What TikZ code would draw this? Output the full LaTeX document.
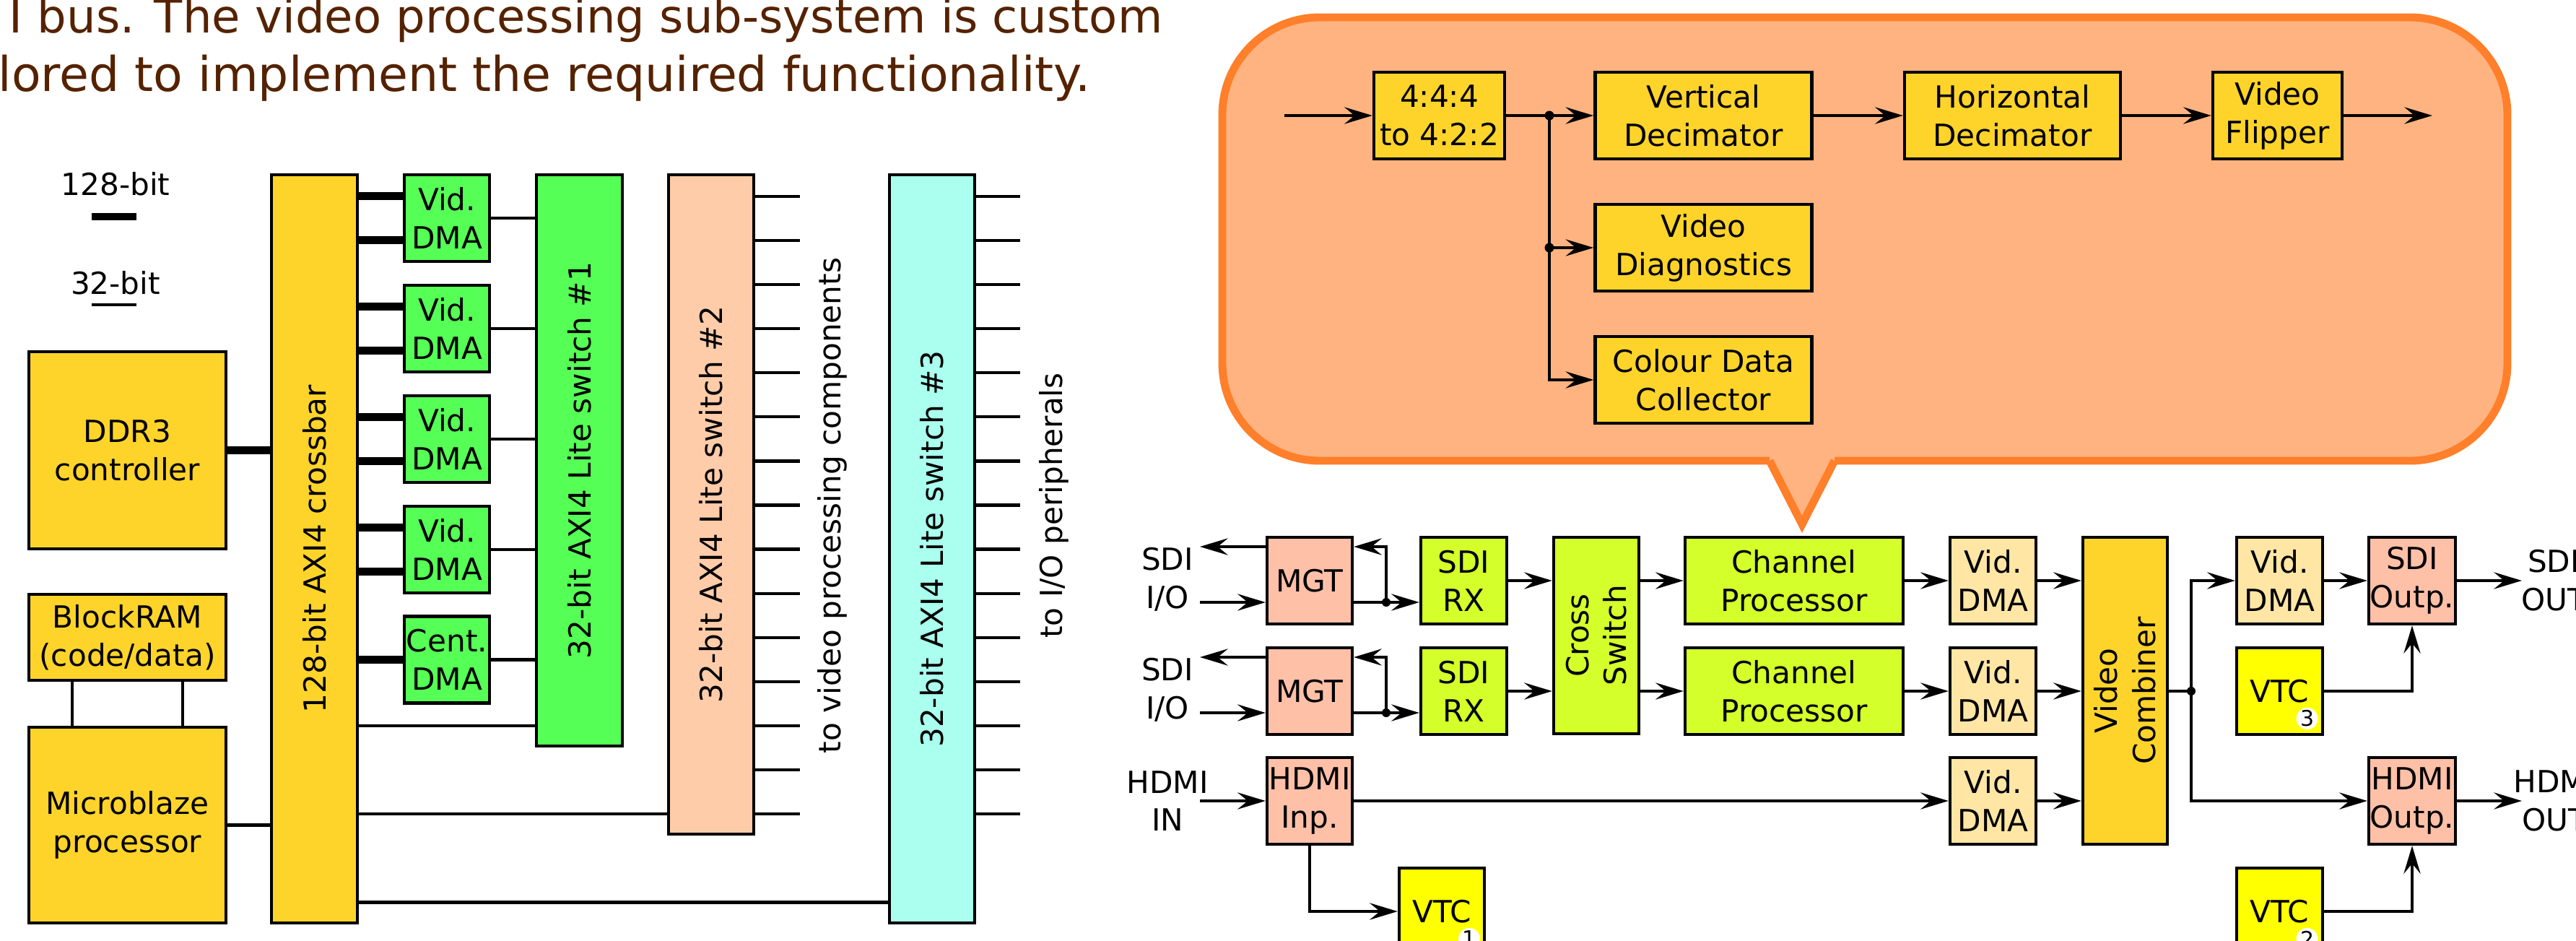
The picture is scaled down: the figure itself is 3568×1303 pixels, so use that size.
\documentclass[tikz,border=0pt]{standalone}
\usepackage{fontspec}
\setmainfont{DejaVu Sans}
\usepackage{tikz}
\usetikzlibrary{arrows.meta,calc}

\definecolor{gold}{HTML}{FFD42A}
\definecolor{dmagreen}{HTML}{55FF55}
\definecolor{peach}{HTML}{FFCCAA}
\definecolor{aqua}{HTML}{AAFFEE}
\definecolor{lime}{HTML}{D4FF2A}
\definecolor{dmatan}{HTML}{FFE6A5}
\definecolor{iosalmon}{HTML}{FFC0A8}
\definecolor{vtcyellow}{HTML}{FFFF00}
\definecolor{callfill}{HTML}{FFB380}
\definecolor{callline}{HTML}{FF7F2A}
\definecolor{txtbrown}{HTML}{552200}

\newcommand{\boxfont}{\fontsize{12}{15}\selectfont}

\tikzstyle{blk} = [draw, line width=1.2pt, inner sep=0pt, align=center, font=\boxfont]
\tikzstyle{wire} = [line width=1.2pt]
\tikzstyle{bus} = [line width=3pt]
\tikzstyle{flow} = [line width=1.2pt, -{Stealth[length=11pt,width=6.6pt,inset=4pt]}]
\tikzstyle{rotlbl} = [rotate=90, align=center, font=\boxfont, inner sep=0pt]
\tikzstyle{iolbl} = [align=center, font=\boxfont, inner sep=0pt]
\tikzstyle{numdot} = [circle, fill=white, inner sep=0pt, minimum size=3mm, font=\fontsize{8.5}{9}\selectfont]
\tikzstyle{intro} = [inner sep=0pt, text=txtbrown]

\begin{document}
\begin{tikzpicture}[x=0.01cm, y=-0.01cm]
\useasboundingbox (0,0) rectangle (3568,1303);
\clip (0,0) rectangle (3568,1303);

\node[intro, anchor=base east, font=\fontsize{18.2}{23}\selectfont] (intro1) at (1611,45) {I bus. The video processing sub-system is custom};
\node[intro, anchor=base west, font=\fontsize{18.9}{23}\selectfont] (intro2) at (-3,126) {lored to implement the required functionality.};

\node[iolbl] (leg128) at (160,255) {128-bit};
\draw[bus] (127,300) -- (189,300);
\node[iolbl] (leg32) at (160,392) {32-bit};
\draw[wire] (127,422) -- (189,422);

\node[blk, fill=gold, minimum width=2.73cm, minimum height=2.73cm] (ddr) at (176.5,623.5) {DDR3\\controller};
\node[blk, fill=gold, minimum width=2.73cm, minimum height=1.19cm] (bram) at (176.5,882.5) {BlockRAM\\(code/data)};
\node[blk, fill=gold, minimum width=2.73cm, minimum height=2.71cm] (mb) at (176.5,1142.5) {Microblaze\\processor};
\node[blk, fill=gold, minimum width=1.19cm, minimum height=10.36cm] (xbar) at (435.5,760) {};
\node[rotlbl] (xbarlbl) at (xbar) {128-bit AXI4 crossbar};

\foreach \i/\y in {1/302,2/455,3/608,4/761}{
  \node[blk, fill=dmagreen, minimum width=1.18cm, minimum height=1.2cm] (dma\i) at (619,\y) {Vid.\\DMA};
}
\node[blk, fill=dmagreen, minimum width=1.18cm, minimum height=1.2cm] (cdma) at (619,913.5) {Cent.\\DMA};

\node[blk, fill=dmagreen, minimum width=1.19cm, minimum height=7.91cm] (sw1) at (802.5,637.5) {};
\node[rotlbl] (sw1lbl) at (sw1) {32-bit AXI4 Lite switch \#1};
\node[blk, fill=peach, minimum width=1.18cm, minimum height=9.13cm] (sw2) at (985,698.5) {};
\node[rotlbl] (sw2lbl) at (sw2) {32-bit AXI4 Lite switch \#2};
\node[blk, fill=aqua, minimum width=1.18cm, minimum height=10.36cm] (sw3) at (1291,760) {};
\node[rotlbl] (sw3lbl) at (sw3) {32-bit AXI4 Lite switch \#3};

\draw[bus] (ddr.east) -- (ddr.east -| xbar.west);
\foreach \i in {1,...,4}{
  \draw[bus] ([yshift=3.05mm]dma\i.west) -- ([yshift=3.05mm]dma\i.west -| xbar.east);
  \draw[bus] ([yshift=-3.05mm]dma\i.west) -- ([yshift=-3.05mm]dma\i.west -| xbar.east);
  \draw[wire] (dma\i.east) -- (dma\i.east -| sw1.west);
}
\draw[bus] (cdma.west) -- (cdma.west -| xbar.east);
\draw[wire] (cdma.east) -- (cdma.east -| sw1.west);

\draw[wire] ([xshift=-7.65mm]bram.south) -- ([xshift=-7.65mm]bram.south |- mb.north);
\draw[wire] ([xshift=7.65mm]bram.south) -- ([xshift=7.65mm]bram.south |- mb.north);
\draw[wire] (mb.east) -- (mb.east -| xbar.west);
\draw[wire] ([yshift=3mm]sw1.south west) -- ([yshift=3mm]sw1.south west -| xbar.east);
\draw[wire] ([yshift=3mm]sw2.south west) -- ([yshift=3mm]sw2.south west -| xbar.east);
\draw[wire] ([yshift=3.1mm]sw3.south west) -- ([yshift=3.1mm]sw3.south west -| xbar.east);

\foreach \k in {0,...,14}{
  \coordinate (tovp\k) at (1108,{272+61.07*\k});
  \coordinate (toio\k) at (1413,{272+61.07*\k});
  \draw[wire] (tovp\k -| sw2.east) -- (tovp\k);
  \draw[wire] (toio\k -| sw3.east) -- (toio\k);
}
\node[rotlbl] (tovplbl) at (1153,700) {to video processing components};
\node[rotlbl] (toiolbl) at (1460,700) {to I/O peripherals};

\draw[line width=3.1pt, draw=callline, fill=callfill, rounded corners=1.35cm] (1693,24) rectangle (3473,638);
\fill[callfill] (2451,626) -- (2541,626) -- (2541,638) -- (2496,726) -- (2451,638) -- cycle;
\draw[line width=3.1pt, draw=callline] (2451,638) -- (2496,726) -- (2541,638);

\node[blk, fill=gold, minimum width=1.81cm, minimum height=1.2cm] (cvt) at (1993.5,160) {4:4:4\\to 4:2:2};
\node[blk, fill=gold, minimum width=3cm, minimum height=1.2cm] (vdec) at (2359.5,160) {Vertical\\Decimator};
\node[blk, fill=gold, minimum width=2.99cm, minimum height=1.2cm] (hdec) at (2787.5,160) {Horizontal\\Decimator};
\node[blk, fill=gold, minimum width=1.79cm, minimum height=1.2cm] (flip) at (3154.5,160) {Video\\Flipper};
\node[blk, fill=gold, minimum width=3cm, minimum height=1.2cm] (vdiag) at (2359.5,343) {Video\\Diagnostics};
\node[blk, fill=gold, minimum width=3cm, minimum height=1.2cm] (cdc) at (2359.5,526) {Colour Data\\Collector};
\coordinate (vin) at (1779,160);
\coordinate (vout) at (3369,160);
\coordinate (split1) at (2146,160);
\coordinate (split2) at (2146,343);
\draw[flow] (vin) -- (cvt);
\draw[flow] (cvt) -- (vdec);
\draw[flow] (split1) |- (cdc);
\draw[flow] (split2) -- (vdiag);
\fill (split1) circle[radius=0.65mm];
\fill (split2) circle[radius=0.65mm];
\draw[flow] (vdec) -- (hdec);
\draw[flow] (hdec) -- (flip);
\draw[flow] (flip) -- (vout);

\node[blk, fill=iosalmon, minimum width=1.18cm, minimum height=1.2cm] (mgt1) at (1814,804) {MGT};
\node[blk, fill=iosalmon, minimum width=1.18cm, minimum height=1.2cm] (mgt2) at (1814,957) {MGT};
\node[blk, fill=iosalmon, minimum width=1.18cm, minimum height=1.2cm] (hdmiin) at (1814,1109) {HDMI\\Inp.};
\node[blk, fill=lime, minimum width=1.19cm, minimum height=1.2cm] (rx1) at (2027.5,804) {SDI\\RX};
\node[blk, fill=lime, minimum width=1.19cm, minimum height=1.2cm] (rx2) at (2027.5,957) {SDI\\RX};
\node[blk, fill=lime, minimum width=1.18cm, minimum height=2.72cm] (xsw) at (2211,880) {};
\node[rotlbl] (xswlbl) at (xsw) {Cross\\Switch};
\node[blk, fill=lime, minimum width=3.02cm, minimum height=1.2cm] (cp1) at (2485,804) {Channel\\Processor};
\node[blk, fill=lime, minimum width=3.02cm, minimum height=1.2cm] (cp2) at (2485,957) {Channel\\Processor};
\foreach \i/\y in {1/804,2/957,3/1109}{
  \node[blk, fill=dmatan, minimum width=1.19cm, minimum height=1.2cm] (vd\i) at (2760.5,\y) {Vid.\\DMA};
}
\node[blk, fill=gold, minimum width=1.17cm, minimum height=4.25cm] (comb) at (2943.5,956.5) {};
\node[rotlbl] (comblbl) at (comb) {Video\\Combiner};
\node[blk, fill=dmatan, minimum width=1.19cm, minimum height=1.2cm] (vdo) at (3157.5,804) {Vid.\\DMA};
\node[blk, fill=vtcyellow, minimum width=1.19cm, minimum height=1.2cm] (vtc3) at (3157.5,957) {VTC};
\node[blk, fill=vtcyellow, minimum width=1.19cm, minimum height=1.2cm] (vtc2) at (3157.5,1262) {VTC};
\node[blk, fill=vtcyellow, minimum width=1.18cm, minimum height=1.2cm] (vtc1) at (1997,1262) {VTC};
\node[numdot] (vtc1no) at ([shift={(0.38cm,-0.38cm)}]vtc1.center) {1};
\node[numdot] (vtc2no) at ([shift={(0.38cm,-0.38cm)}]vtc2.center) {2};
\node[numdot] (vtc3no) at ([shift={(0.38cm,-0.38cm)}]vtc3.center) {3};
\node[blk, fill=iosalmon, minimum width=1.2cm, minimum height=1.2cm] (sdio) at (3341,804) {SDI\\Outp.};
\node[blk, fill=iosalmon, minimum width=1.2cm, minimum height=1.2cm] (hdmio) at (3341,1109) {HDMI\\Outp.};

\node[iolbl] (sdiio1) at (1617,802) {SDI\\I/O};
\node[iolbl] (sdiio2) at (1617,955) {SDI\\I/O};
\node[iolbl] (hdmiinlbl) at (1617,1109) {HDMI\\IN};
\node[iolbl] (sdioutlbl) at (3537,804) {SDI\\OUT};
\node[iolbl] (hdmioutlbl) at (3538,1109) {HDMI\\OUT};

\coordinate (mgtout1) at (1662,757);
\coordinate (mgtin1) at (1662,834);
\coordinate (loop1) at (1920,834);
\coordinate (mgtout2) at (1662,910);
\coordinate (mgtin2) at (1662,987);
\coordinate (loop2) at (1920,987);
\coordinate (hdmisrc) at (1662,1109);
\foreach \i in {1,2}{
  \draw[flow] (mgt\i.west |- mgtout\i) -- (mgtout\i);
  \draw[flow] (mgtin\i) -- (mgtin\i -| mgt\i.west);
  \draw[flow] (mgt\i.east |- loop\i) -- (loop\i -| rx\i.west);
  \draw[flow] (loop\i) |- (mgt\i.east |- mgtout\i);
  \fill (loop\i) circle[radius=0.6mm];
  \draw[flow] (rx\i) -- (rx\i -| xsw.west);
  \draw[flow] (cp\i -| xsw.east) -- (cp\i);
  \draw[flow] (cp\i) -- (vd\i);
}
\draw[flow] (hdmisrc) -- (hdmiin);
\foreach \i in {1,2,3}{
  \draw[flow] (vd\i) -- (vd\i -| comb.west);
}
\draw[flow] (hdmiin) -- (vd3);
\draw[flow] (hdmiin.south) |- (vtc1);
\coordinate (split3) at (3035,957);
\draw[wire] (comb.east |- split3) -- (split3);
\draw[flow] (split3) |- (vdo);
\draw[flow] (split3) |- (hdmio);
\fill (split3) circle[radius=0.6mm];
\draw[flow] (vdo) -- (sdio);
\draw[flow] (vtc3) -| (sdio);
\draw[flow] (vtc2) -| (hdmio);
\coordinate (sdiend) at (3493,804);
\coordinate (hdmiend) at (3493,1109);
\draw[flow] (sdio) -- (sdiend);
\draw[flow] (hdmio) -- (hdmiend);
\end{tikzpicture}
\end{document}
